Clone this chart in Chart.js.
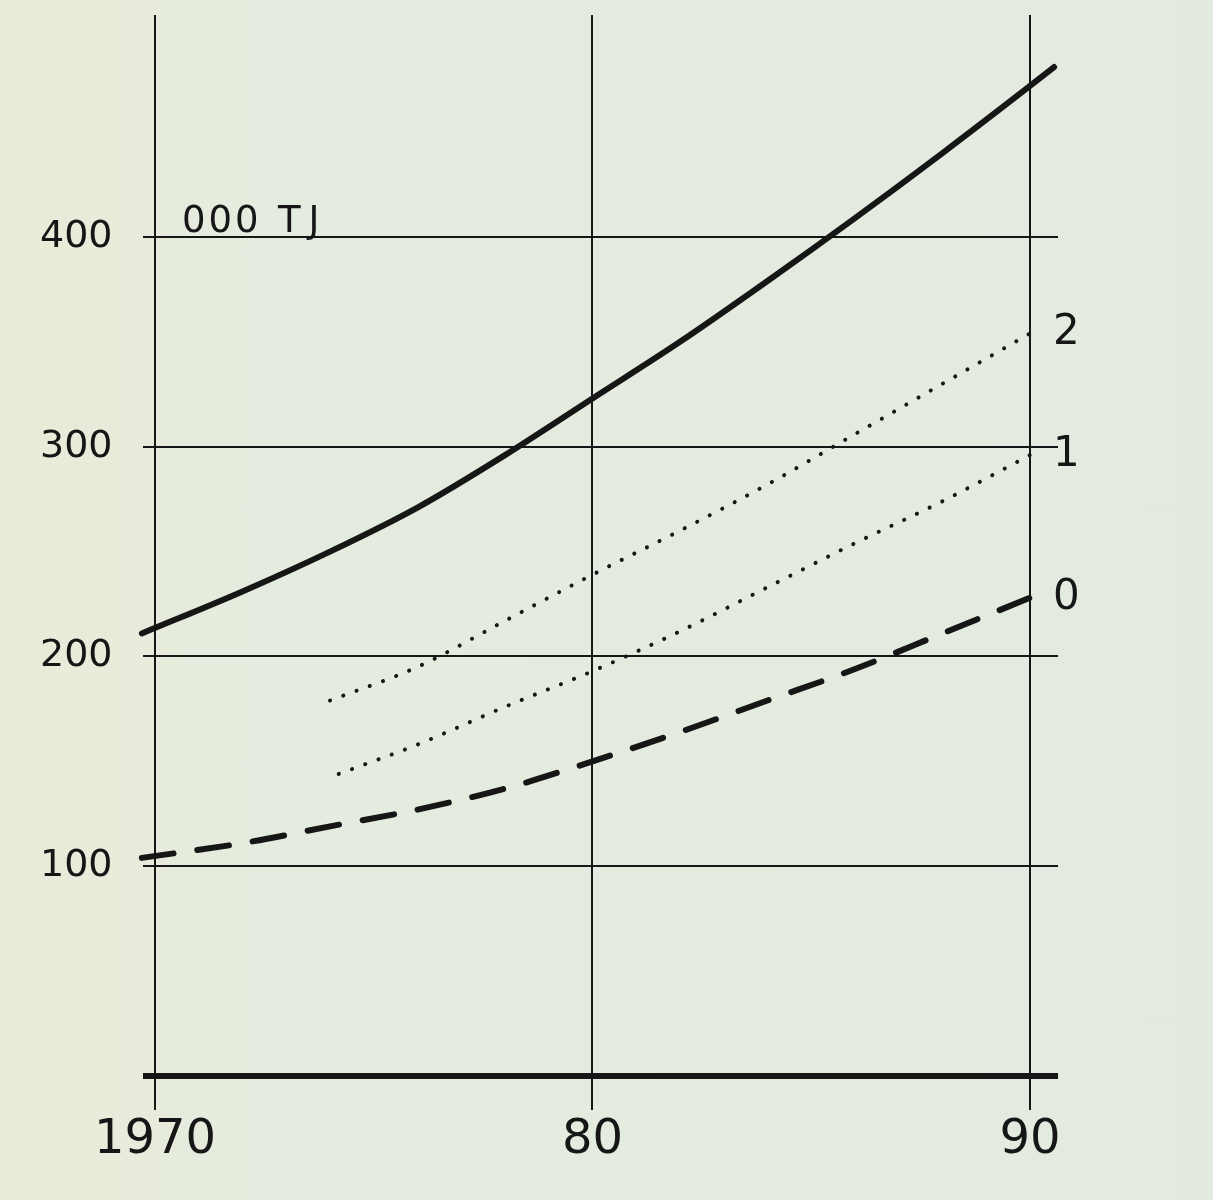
<!DOCTYPE html>
<html>
<head>
<meta charset="utf-8">
<script src="https://cdn.jsdelivr.net/npm/chart.js@4.4.1/dist/chart.umd.min.js"></script>
<style>
  html, body { margin: 0; padding: 0; }
  body { width: 1213px; height: 1200px; background: linear-gradient(90deg, #eaebd7 0%, #e4ecdf 22%, #e3ebe0 100%); }
  #wrap { position: relative; width: 1213px; height: 1200px; }
</style>
</head>
<body>
<div id="wrap"><canvas id="c" width="1213" height="1200"></canvas></div>
<script>
// ---- data ----
const xTickYears = [1970, 1980, 1990];
const xTickLabels = ['1970', '80', '90'];
const yTickValues = [0, 100, 200, 300, 400];
const yTickLabels = ['', '100', '200', '300', '400'];
const unitLabel = '000 TJ';

const totalYears  = [1969.7, 1972, 1974, 1976, 1978, 1980, 1982, 1984, 1986, 1988, 1990, 1990.55];
const totalValues = [211, 231, 250, 271, 296, 323, 350, 379, 409, 440, 472, 481];

const s2Years  = [1974.0, 1976, 1978, 1980, 1982, 1984, 1986, 1988, 1990];
const s2Values = [179, 195, 217, 239, 260, 282, 306, 330, 354];

const s1Years  = [1974.2, 1976, 1978, 1980, 1982, 1984, 1986, 1988, 1990];
const s1Values = [144, 158, 176, 193, 212, 233, 254, 274, 296];

const s0Years  = [1969.7, 1972, 1974, 1976, 1978, 1980, 1982, 1984, 1986, 1988, 1990];
const s0Values = [104, 111, 119, 127, 137, 150, 164, 179, 194, 211, 228];

const seriesNames = ['', '2', '1', '0'];

const toPts = (xs, ys) => xs.map((x, i) => ({ x: x, y: ys[i] }));
const ink = '#161616';
const FONT = "'DejaVu Sans', sans-serif";

const endLabels = {
  id: 'endLabels',
  afterDatasetsDraw(chart) {
    const ctx = chart.ctx;
    ctx.save();
    ctx.fillStyle = ink;
    ctx.textBaseline = 'middle';
    ctx.textAlign = 'left';
    ctx.font = "42px " + FONT;
    chart.data.datasets.forEach((ds, i) => {
      if (!seriesNames[i]) return;
      const meta = chart.getDatasetMeta(i);
      const p = meta.data[meta.data.length - 1];
      ctx.fillText(seriesNames[i], p.x + 23, p.y);
    });
    // unit label next to 400
    const ys = chart.scales.y;
    const yU = ys.getPixelForValue(400) - 15;
    const parts = unitLabel.split(' ');
    ctx.font = "37px " + FONT;
    try { ctx.letterSpacing = '3px'; } catch (e) {}
    ctx.fillText(parts[0], chart.chartArea.left + 39, yU);
    try { ctx.letterSpacing = '8px'; } catch (e) {}
    ctx.fillText(parts[1], chart.chartArea.left + 135, yU);
    ctx.restore();
  }
};

new Chart(document.getElementById('c'), {
  type: 'line',
  data: {
    datasets: [
      { data: toPts(totalYears, totalValues), borderColor: ink, borderWidth: 6, borderCapStyle: 'round', cubicInterpolationMode: 'monotone', pointRadius: 0, clip: false },
      { data: toPts(s2Years, s2Values), borderColor: ink, borderWidth: 4, borderDash: [0.1, 14], borderCapStyle: 'round', cubicInterpolationMode: 'monotone', pointRadius: 0, clip: false },
      { data: toPts(s1Years, s1Values), borderColor: ink, borderWidth: 4, borderDash: [0.1, 14], borderCapStyle: 'round', cubicInterpolationMode: 'monotone', pointRadius: 0, clip: false },
      { data: toPts(s0Years, s0Values), borderColor: ink, borderWidth: 6, borderDash: [32, 24], borderCapStyle: 'round', cubicInterpolationMode: 'monotone', pointRadius: 0, clip: false }
    ]
  },
  options: {
    responsive: false,
    animation: false,
    layout: { padding: { left: 40, top: 15, right: 155, bottom: 0 } },
    plugins: { legend: { display: false }, tooltip: { enabled: false } },
    scales: {
      x: {
        type: 'linear',
        min: 1969.726,
        max: 1990.64,
        afterBuildTicks: (s) => { s.ticks = xTickYears.map(v => ({ value: v })); },
        afterFit: (s) => { s.height = 90; s.paddingLeft = 0; s.paddingRight = 0; },
        ticks: {
          color: ink,
          font: { family: FONT, size: 48 },
          padding: 2,
          maxRotation: 0,
          autoSkip: false,
          callback: (v) => xTickLabels[xTickYears.indexOf(v)]
        },
        grid: { color: ink, lineWidth: 2, drawTicks: false },
        border: { display: false }
      },
      y: {
        type: 'linear',
        min: -16.2,
        max: 505.8,
        afterBuildTicks: (s) => { s.ticks = yTickValues.map(v => ({ value: v })); },
        afterFit: (s) => { s.width = 103; s.paddingTop = 0; s.paddingBottom = 0; },
        ticks: {
          color: ink,
          font: { family: FONT, size: 38 },
          crossAlign: 'far',
          padding: 0,
          autoSkip: false,
          callback: (v) => yTickLabels[yTickValues.indexOf(v)]
        },
        grid: { color: ink, lineWidth: (c) => (c.tick && c.tick.value === 0 ? 6 : 2), drawTicks: false },
        border: { display: false }
      }
    }
  },
  plugins: [endLabels]
});
</script>
</body>
</html>
